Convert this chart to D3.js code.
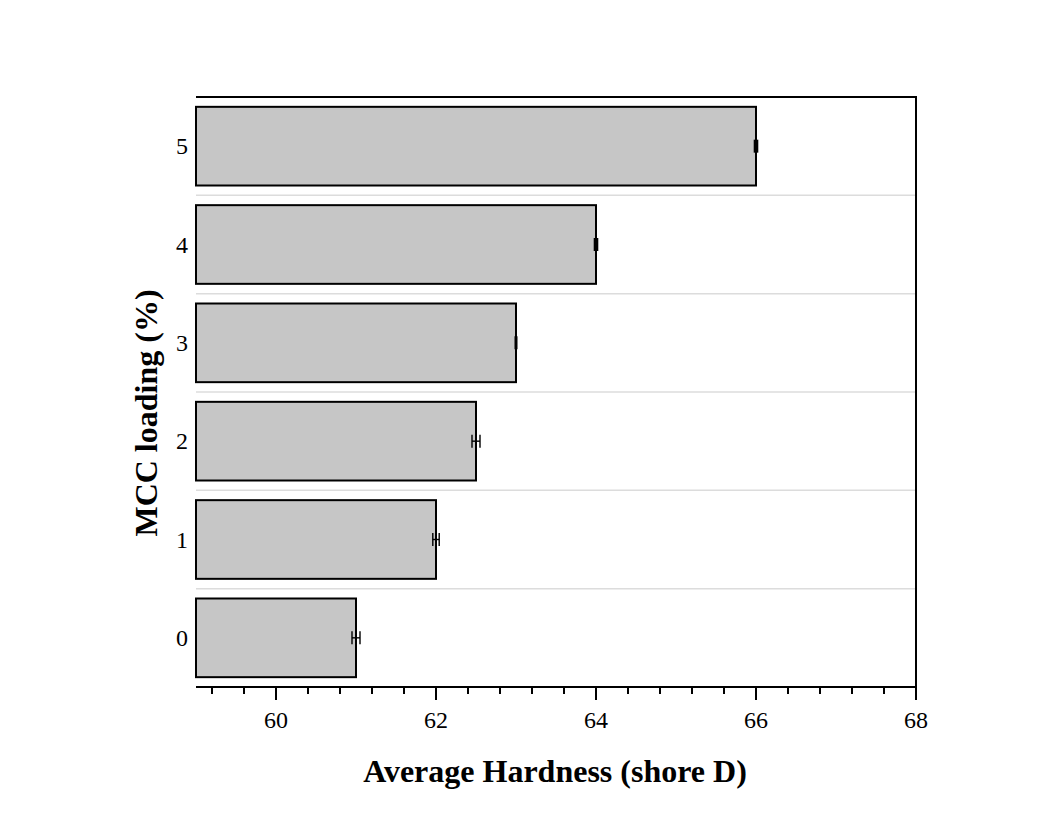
<!DOCTYPE html>
<html><head><meta charset="utf-8">
<script src="https://cdn.jsdelivr.net/npm/d3@7"></script>
<style>body{margin:0;background:#fff;} svg{display:block;}</style>
</head><body>
<svg id="c" width="1045" height="814"></svg>
<script>
const categories = ["0","1","2","3","4","5"];
const hardness = [61.0, 62.0, 62.5, 63.0, 64.0, 66.0];
const errors = [0.05, 0.04, 0.05, 0.01, 0.02, 0.02];
const xTicks = [60, 62, 64, 66, 68];

const svg = d3.select("#c");
const L = 196, R = 916, T = 97, B = 687;
const x = d3.scaleLinear().domain([59, 68]).range([L, R]);
const y = d3.scaleBand().domain(categories).range([B, T]).paddingInner(0.2).paddingOuter(0.1);
const font = "'Liberation Serif','Times New Roman',serif";

// gridlines between bands
const step = y.step();
const grid = d3.range(1, categories.length).map(k => T + k * step);
svg.append("g").selectAll("line").data(grid).join("line")
  .attr("x1", L).attr("x2", R).attr("y1", d => d).attr("y2", d => d)
  .attr("stroke", "#dcdcdc").attr("stroke-width", 1.5);

// bars
svg.append("g").selectAll("rect").data(hardness).join("rect")
  .attr("x", x(59)).attr("y", (d, i) => y(categories[i]))
  .attr("width", d => x(d) - x(59)).attr("height", y.bandwidth())
  .attr("fill", "#c6c6c6").attr("stroke", "#000").attr("stroke-width", 2);

// error bars
const eg = svg.append("g").attr("stroke", "#000").attr("stroke-width", 1.4);
hardness.forEach((v, i) => {
  const cy = y(categories[i]) + y.bandwidth() / 2;
  const x0 = x(v - errors[i]), x1 = x(v + errors[i]);
  eg.append("line").attr("x1", x0).attr("x2", x1).attr("y1", cy).attr("y2", cy);
  [x0, x1].forEach(xx => eg.append("line").attr("x1", xx).attr("x2", xx).attr("y1", cy - 6.5).attr("y2", cy + 6.5));
});

// frame: top and right
svg.append("line").attr("x1", L).attr("x2", R + 1).attr("y1", T).attr("y2", T).attr("stroke", "#000").attr("stroke-width", 2);
svg.append("line").attr("x1", R).attr("x2", R).attr("y1", T).attr("y2", B).attr("stroke", "#000").attr("stroke-width", 2);

// x axis
const minor = d3.range(59.2, 68.0001, 0.4).map(v => +v.toFixed(1)).filter(v => Math.abs(v - Math.round(v / 2) * 2) > 1e-6);
const xa = svg.append("g").attr("transform", `translate(0,${B})`);
xa.append("line").attr("x1", L).attr("x2", R + 1).attr("y1", 0).attr("y2", 0).attr("stroke", "#000").attr("stroke-width", 2);
xa.selectAll("line.mi").data(minor).join("line").attr("class", "mi")
  .attr("x1", d => x(d)).attr("x2", d => x(d)).attr("y1", 0).attr("y2", 7).attr("stroke", "#000").attr("stroke-width", 2);
xa.selectAll("line.ma").data(xTicks).join("line").attr("class", "ma")
  .attr("x1", d => x(d)).attr("x2", d => x(d)).attr("y1", 0).attr("y2", 13).attr("stroke", "#000").attr("stroke-width", 2);
xa.selectAll("text").data(xTicks).join("text")
  .attr("x", d => x(d)).attr("y", 41).attr("text-anchor", "middle")
  .attr("font-family", font).attr("font-size", 24).attr("fill", "#000").text(d => d);

// y tick labels
svg.append("g").selectAll("text").data(categories).join("text")
  .attr("x", 188).attr("y", d => y(d) + y.bandwidth() / 2 + 8).attr("text-anchor", "end")
  .attr("font-family", font).attr("font-size", 24).attr("fill", "#000").text(d => d);

// titles
svg.append("text").attr("x", 555).attr("y", 782).attr("text-anchor", "middle")
  .attr("font-family", font).attr("font-size", 32).attr("font-weight", "bold").text("Average Hardness (shore D)");
svg.append("text").attr("transform", "translate(157,413) rotate(-90)").attr("text-anchor", "middle")
  .attr("font-family", font).attr("font-size", 32).attr("font-weight", "bold").text("MCC loading (%)");
</script>
</body></html>
